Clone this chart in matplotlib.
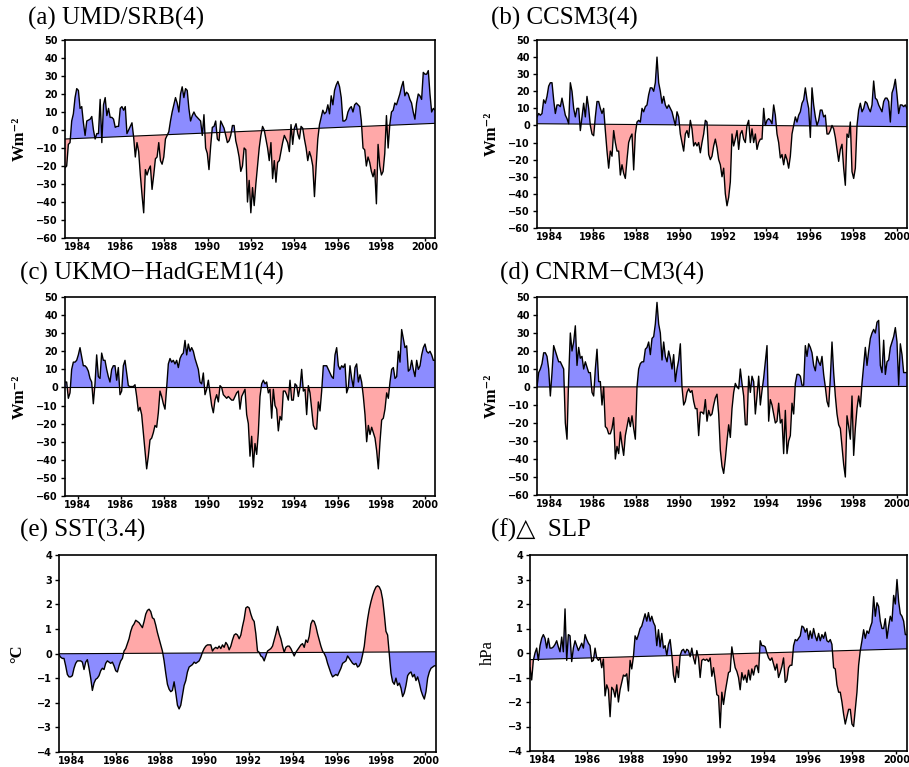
import numpy as np
import matplotlib
matplotlib.use("Agg")
import matplotlib.pyplot as plt

# monthly anomaly series, 1983.4 - 2000.5
umd_srb = [
    -21, -20, -8, -7, 5, 9, 18, 23, 22, 12, 13, 4, -3, 5, 5.5, 6, 7.5, 0, -5, -2,
    -2, 17, -7, 14, 18, 8, 12, 7, 7, 6, 1.5, 2, 2, 12, 13, 11, 13, -2, 0, 2,
    4, -4, -15, -7, -12, -25, -36, -46, -22, -25, -22, -20, -33, -25, -16, -15, -7, -17, -19, -15,
    -5, -3, -1, 5, 10, 14, 18, 15, 10, 20, 24, 18, 23, 22, 12, 5, 8, 10, 8, 7,
    6, 5, -3, 8.5, -10, -13, -22, -9, 1.5, 2, 5, -5, -6, 5, 3, 1, -3, -7, -6, -3,
    2.5, 2.5, -6, -10, -15, -23, -20, -10, -11, -40, -28, -46, -32, -42, -30, -20, -10, -3, 2, 0,
    -5, -10, -17, -7, -27, -17, -29, -18, -17, -12, -7, -3, -5, -7, -12, 3, -8, 1, 3.5, -2,
    -5, 2, 1, -5, -10, -17, -12, -15, -20, -37, -20, -5, 3, 7, 11, 9, 10, 14, 9, 19,
    14, 22, 25, 27, 24, 18, 5, 5, 6, 10, 12, 13, 10, 14, 15, 14, 13, 5, -10, -11,
    -20, -15, -18, -23, -26, -22, -41, -8, -20, -25, -23, -13, 8, -10, 3, 10, 11, 15, 14, 17,
    20, 24, 27, 19, 21, 20, 17, 15, 10, 6, 15, 20, 19, 17, 32, 31, 31, 33, 20, 10,
    12, 11,
]
umd_srb_trend = [-5.0, 3.7]

ccsm3 = [
    5, 7, 6, 7, 15, 13, 17, 23, 25, 25, 15, 7, 12, 12, 11, 16, 11, 6, 4, 1,
    25, 20, 10, 5, 10, 10, -3, 5, 13, 5, 17, 10, 0, -5, -6, 5, 14, 14, 10, 7,
    10, -3, -15, -25, -15, -18, -3, -10, -15, -15, -29, -23, -28, -31, -20, -10, -7, -5, -26, -5,
    2, 3, 2, 10, 8, 11, 12, 18, 22, 22, 20, 25, 40, 25, 20, 13, 17, 12, 10, 12,
    10, 8, 4, 0, 8, 5, -5, -10, -15, -5, -3, -7, 3, -2, -12, -10, -12, -10, -16, -10,
    -5, 3, 2, -17, -20, -18, -12, -8, -13, -20, -23, -30, -25, -40, -47, -42, -33, -5, -12, -8,
    -3, -14, -5, -3, -8, -10, 0, 3, -10, -2, -10, -5, -14, -10, -8, -8, 10, 0, 3, 4,
    3, 1, 12, 6, -5, -10, -19, -17, -23, -17, -20, -25, -18, -5, 0, 5, 2, 6, 8, 13,
    15, 22, 15, 10, -7, 22, 12, 5, 0, 3, 9, 9, 5, 6, -5, -5, -3, 0, -2, -7,
    -14, -21, -14, -11, -25, -35, -5, -7, 2, -27, -31, -25, 0, 9, 13, 8, 10, 14, 13, 10,
    8, 12, 26, 16, 15, 12, 10, 8, 14, 16, 16, 14, 2, 19, 22, 27, 18, 7, 12, 12,
    11, 12, 10,
]
ccsm3_trend = [1.0, -0.7]

hadgem1 = [
    3, 3, -6, -3, 10, 14, 14, 15, 18, 22, 17, 12, 12, 11, 9, 5, 3, -9, 2, 18,
    6, 5, 19, 15, 15, 10, 6, 3, 10, 12, 12, 4, 11, -4, -2, 12, 15, 8, 1, 0.5,
    0.5, 0.5, 1.5, -5, -13, -11, -15, -25, -35, -45, -38, -29, -28, -25, -21, -22, -14, -2, -5, -9,
    -12, 0, 13, 16, 14, 15, 13, 15, 11, 16, 18, 19, 26, 18, 24, 20, 22, 20, 16, 13,
    10, 3, 2, 8, -4, -1, 4, -3, -10, -14, -7, -4, -8, 1, 0, -4, -5, -6, -5, -6,
    -7, -7, -5, -3, -2, -12, -5, -3, -1, -15, -20, -38, -27, -44, -31, -37, -25, -5, 2, 4,
    2, 3, -3, -1, -17, -1, -10, -12, -24, -16, -18, -2, -2, -4, -7, 4, -7, -7, 2, 1,
    -5, 0, 10, -2, -1, -15, 1, -3, -12, -21, -23, -23, -8, -13, -2, 12, 12, 12, 10, 8,
    6, 5, 18, 22, 12, 10, 12, 11, 13, -3, 0, 12, 5, 0, 11, 13, 3, 7, 3, -5,
    -15, -30, -21, -26, -22, -25, -28, -35, -45, -30, -18, -17, -12, -3, -6, 3, 10, 11, 5, 6,
    20, 14, 32, 27, 22, 23, 9, 10, 15, 10, 6, 15, 10, 12, 18, 22, 24, 20, 19, 20,
    18, 15, 15,
]
hadgem1_trend = [0.0, 0.0]

cnrm_cm3 = [
    0, 8, 10, 13, 19, 19, 17, 10, -5, 8, 23, 20, 17, 14, 14, 12, 10, -20, -29, 5,
    30, 20, 25, 34, 12, 22, 16, 17, 10, 14, 11, 8, 8, -3, -5, 10, 21, 3, 3, -10,
    0, -22, -23, -26, -26, -23, -17, -40, -33, -37, -25, -32, -38, -27, -22, -17, -22, -16, -23, -29,
    0, 10, 13, 14, 14, 21, 22, 25, 18, 27, 28, 35, 47, 35, 30, 15, 25, 17, 14, 20,
    16, 10, 18, 3, 10, 15, 24, 0, -10, -8, -3, -1, -3, -2, -8, -12, -12, -27, -14, -14,
    -15, -7, -19, -13, -16, -15, -10, -6, -4, -15, -35, -44, -48, -40, -30, -21, -28, -12, -3, 2,
    0, -1, 10, 2, -5, -21, -21, 6, -3, 6, 3, -15, -5, 6, -10, -2, 5, 14, 23, -19,
    -7, -10, -15, -20, -19, -9, -20, -18, -37, -13, -37, -30, -27, -9, -15, 2, 7, 7, 6, 1,
    1, 23, 17, 24, 22, 19, 12, 9, 17, 14, 12, 17, 7, 0, -8, -11, 5, 25, 8, -5,
    -15, -21, -23, -33, -43, -50, -16, -22, -29, -5, -38, -23, -12, -5, -11, 2, 12, 22, 12, 20,
    27, 30, 32, 30, 36, 37, 12, 8, 26, 7, 14, 15, 22, 25, 28, 33, 25, 1, 24, 18,
    8, 8, 8,
]
cnrm_cm3_trend = [0.0, 0.3]

sst34 = [
    -0.05, -0.15, -0.2, -0.2, -0.5, -0.85, -0.95, -0.95, -0.9, -0.6, -0.4, -0.3, -0.3, -0.3, -0.35, -0.65, -0.35, -0.25, -0.6, -1.0,
    -1.5, -1.2, -1.05, -1.0, -0.9, -0.7, -0.6, -0.65, -0.4, -0.3, -0.35, -0.4, -0.35, -0.5, -0.7, -0.75, -0.5, -0.3, -0.2, 0.1,
    0.2, 0.4, 0.6, 0.9, 1.1, 1.2, 1.35, 1.3, 1.25, 1.15, 1.05, 1.3, 1.6, 1.75, 1.8, 1.7, 1.45, 1.4, 1.15, 0.85,
    0.6, 0.35, 0.1, -0.3, -0.8, -1.25, -1.45, -1.55, -1.5, -1.15, -1.6, -2.1, -2.25, -2.1, -1.7, -1.3, -1.1, -0.75, -0.55, -0.5,
    -0.45, -0.35, -0.4, -0.35, -0.3, -0.15, 0.05, 0.2, 0.3, 0.35, 0.35, 0.35, 0.1, 0.2, 0.25, 0.2, 0.3, 0.2, 0.35, 0.25,
    0.45, 0.35, 0.15, 0.3, 0.55, 0.75, 0.8, 0.75, 0.6, 0.75, 1.1, 1.4, 1.85, 1.9, 1.85, 1.6, 1.4, 1.3, 0.8, 0.1,
    0.05, -0.1, -0.15, -0.3, -0.1, 0.1, 0.15, 0.2, 0.3, 0.55, 0.8, 1.1, 0.8, 0.6, 0.3, 0.05, 0.25, 0.3, 0.3, 0.2,
    0.05, -0.1, 0.05, 0.15, 0.25, 0.35, 0.4, 0.25, 0.55, 0.45, 0.7, 1.2, 1.35, 1.3, 1.1, 0.8, 0.55, 0.3, 0.1, 0.0,
    -0.15, -0.4, -0.6, -0.8, -0.95, -0.9, -0.85, -0.9, -0.75, -0.6, -0.4, -0.35, -0.3, -0.1, -0.2, -0.3, -0.4, -0.45, -0.4, -0.55,
    -0.5, -0.35, -0.05, 0.3, 0.9, 1.4, 1.8, 2.1, 2.35, 2.55, 2.7, 2.75, 2.7, 2.55, 2.2, 1.6, 0.9, 0.75, -0.05, -0.8,
    -1.15, -1.25, -1.0, -1.3, -1.2, -1.4, -1.75, -1.6, -1.3, -0.9, -0.8, -0.75, -0.95, -0.85, -1.1, -0.95, -1.2, -1.5, -1.7, -1.85,
    -1.55, -1.0, -0.75, -0.6, -0.55, -0.5, -0.5,
]
sst34_trend = [-0.01, 0.07]

dslp = [
    -0.6, -1.1, -0.3, 0.0, 0.2, -0.3, 0.3, 0.6, 0.75, 0.6, 0.2, 0.6, 0.2, 0.2, 0.25, 0.35, 0.5, 0.25, 0.05, 0.65,
    0.05, 1.8, -0.3, 0.75, 0.7, -0.35, 0.2, 0.5, 0.3, 0.1, 0.25, 0.4, 0.2, 0.75, 0.55, 0.4, 0.3, -0.35, -0.3, 0.2,
    -0.2, -0.3, -0.2, -0.6, -0.25, -1.75, -1.3, -1.5, -2.6, -1.4, -1.5, -1.8, -1.3, -2.0, -1.5, -1.2, -0.9, -0.95, -0.85, -1.55,
    -0.3, -0.65, -0.15, 0.7, 0.55, 0.75, 1.0, 1.1, 1.35, 1.6, 1.3, 1.65, 1.3, 1.5, 1.25, 1.1, 0.3, 0.95, 0.25, 0.8,
    0.2, 0.3, -0.1, 0.35, 0.55, -0.05, -0.9, -1.2, -0.55, -1.0, -0.1, 0.1, 0.15, 0.0, 0.15, 0.1, -0.15, 0.2, -0.2, -0.45,
    0.1, -0.2, -1.0, -0.3, -0.25, -0.3, -0.25, -0.35, -0.2, -0.95, -0.6, -1.1, -1.7, -1.75, -3.05, -1.6, -2.1, -1.6, -1.2, -0.8,
    -0.75, 0.25, -0.2, -0.6, -0.75, -1.0, -1.5, -0.8, -1.1, -0.9, -1.2, -0.7, -1.1, -0.65, -0.9, -0.55, -0.5, -0.8, 0.5, 0.3,
    0.3, 0.25, 0.0, -0.2, -0.3, -0.2, -0.45, -0.7, -0.45, -1.0, -0.8, -0.55, -0.2, -1.2, -1.1, -0.6, -0.5, -0.5, 0.3, 0.55,
    0.5, 0.6, 0.7, 1.1, 1.05, 0.85, 1.0, 0.55, 0.9, 0.6, 1.0, 0.7, 0.5, 0.8, 0.5, 0.75, 0.6, 0.85, 0.5, 0.45,
    0.55, 0.35, -0.6, -0.65, -1.3, -1.6, -1.6, -2.0, -2.5, -2.9, -2.6, -2.3, -2.3, -2.9, -3.0, -2.3, -1.6, -0.5, 0.1, 0.5,
    0.95, 0.6, 0.9, 0.8, 1.05, 1.25, 2.3, 1.5, 2.05, 1.9, 1.3, 1.0, 1.0, 1.4, 0.6, 1.1, 1.5, 1.3, 2.35, 2.0,
    3.0, 2.1, 1.6, 1.5, 1.3, 0.75, 0.75,
]
dslp_trend = [-0.27, 0.17]

year_ticks = [1984, 1986, 1988, 1990, 1992, 1994, 1996, 1998, 2000]
xlim = (1983.42, 2000.48)

BLUE = "#8c8cff"
RED = "#ffa8a8"

SERIF = ["Liberation Serif", "DejaVu Serif", "DejaVu Sans"]

fig = plt.figure(figsize=(9.09, 7.67), dpi=100)


def panel(rect, values, trend, title, title_xy, ylabel, ylim, yticks,
          up_color=BLUE, down_color=RED, ylabel_x=-0.10, ylabel_weight="bold"):
    ax = fig.add_axes(rect)
    v = np.asarray(values, dtype=float)
    t = np.linspace(xlim[0], xlim[1], len(v))
    base = np.interp(t, xlim, trend)
    ax.fill_between(t, v, base, where=v >= base, interpolate=True,
                    color=up_color, lw=0)
    ax.fill_between(t, v, base, where=v < base, interpolate=True,
                    color=down_color, lw=0)
    ax.plot(xlim, trend, color="black", lw=0.8)
    ax.plot(t, v, color="black", lw=1.0)
    ax.set_xlim(xlim)
    ax.set_ylim(ylim)
    ax.set_xticks(year_ticks)
    ax.set_yticks(yticks)
    ax.set_yticklabels([str(y).replace("-", "\u2212") for y in yticks])
    ax.tick_params(direction="out", length=3, width=1, pad=2,
                   labelsize=7)
    ax.tick_params(axis="x", length=2, pad=1)
    for lab in ax.get_xticklabels() + ax.get_yticklabels():
        lab.set_fontweight("bold")
    for sp in ax.spines.values():
        sp.set_linewidth(1.2)
    ax.set_ylabel(ylabel, family=SERIF, fontsize=12, fontweight=ylabel_weight)
    ax.yaxis.set_label_coords(ylabel_x, 0.5)
    fig.text(title_xy[0] / 909, 1 - title_xy[1] / 767, title,
             family=SERIF, fontsize=18, va="center", ha="left")
    return ax


wm2 = "Wm\u207b\u00b2"
flux_ticks = [50, 40, 30, 20, 10, 0, -10, -20, -30, -40, -50, -60]

panel([65 / 909, 1 - 238 / 767, 370 / 909, 198 / 767], umd_srb, umd_srb_trend,
      "(a) UMD/SRB(4)", (28, 18), wm2, (-60, 50), flux_ticks)
panel([537 / 909, 1 - 228 / 767, 370 / 909, 188 / 767], ccsm3, ccsm3_trend,
      "(b) CCSM3(4)", (491, 18), wm2, (-60, 50), flux_ticks)
panel([65 / 909, 1 - 496 / 767, 370 / 909, 199 / 767], hadgem1, hadgem1_trend,
      "(c) UKMO\u2212HadGEM1(4)", (20, 273), wm2, (-60, 50), flux_ticks)
panel([537 / 909, 1 - 495 / 767, 370 / 909, 198 / 767], cnrm_cm3, cnrm_cm3_trend,
      "(d) CNRM\u2212CM3(4)", (500, 273), wm2, (-60, 50), flux_ticks)
panel([59 / 909, 1 - 752 / 767, 377 / 909, 197 / 767], sst34, sst34_trend,
      "(e) SST(3.4)", (20, 530), "\u00b0C", (-4, 4), [4, 3, 2, 1, 0, -1, -2, -3, -4],
      up_color=RED, down_color=BLUE, ylabel_x=-0.09)
panel([530 / 909, 1 - 751 / 767, 377 / 909, 196 / 767], dslp, dslp_trend,
      "(f)\u25b3  SLP", (491, 530), "hPa", (-4, 4), [4, 3, 2, 1, 0, -1, -2, -3, -4],
      ylabel_x=-0.09, ylabel_weight="normal")

fig.savefig("out.png", dpi=100)
